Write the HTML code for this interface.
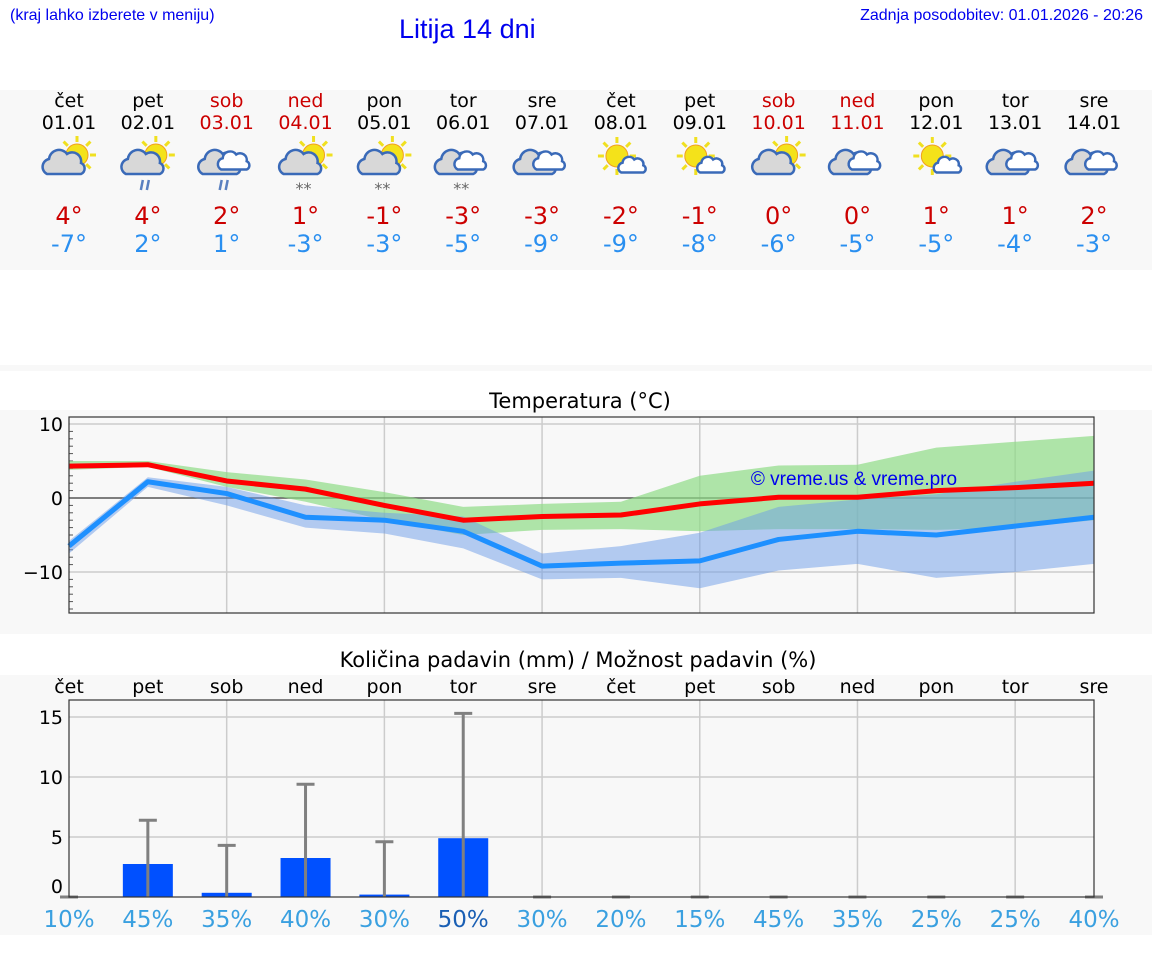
<!DOCTYPE html>
<html><head><meta charset="utf-8">
<style>
body{margin:0;width:1152px;height:975px;background:#fff;position:relative;font-family:"DejaVu Sans","Liberation Sans",sans-serif;overflow:hidden}
.abs{position:absolute}
.band{position:absolute;left:0;width:1152px;background:#f8f8f8}
.col{position:absolute;width:80px;text-align:center}
</style></head><body>
<div class="abs" style="left:10px;top:7px;font:16px 'Liberation Sans',sans-serif;color:#0000ee">(kraj lahko izberete v meniju)</div>
<div class="abs" style="left:399px;top:14px;font:27px 'Liberation Sans',sans-serif;color:#0000ee">Litija 14 dni</div>
<div class="abs" style="right:9px;top:7px;font:16px 'Liberation Sans',sans-serif;color:#0000ee">Zadnja posodobitev: 01.01.2026 - 20:26</div>
<div class="band" style="top:90px;height:180px"></div>
<div class="band" style="top:365px;height:6px"></div>
<div class="band" style="top:410px;height:224px"></div>
<div class="band" style="top:675px;height:260px"></div>
<div id="days"></div>
<svg id="chart" class="abs" style="left:0;top:0" width="1152" height="975"></svg>
<script>
const dayNames=["čet","pet","sob","ned","pon","tor","sre","čet","pet","sob","ned","pon","tor","sre"];
const dates=["01.01","02.01","03.01","04.01","05.01","06.01","07.01","08.01","09.01","10.01","11.01","12.01","13.01","14.01"];
const weekend=[0,0,1,1,0,0,0,0,0,1,1,0,0,0];
const icons=["sc","scr","cr","scs","scs","cs","c","ss","ss","sc","c","ss","c","c"];
const hiLabels=[4,4,2,1,-1,-3,-3,-2,-1,0,0,1,1,2];
const loLabels=[-7,2,1,-3,-3,-5,-9,-9,-8,-6,-5,-5,-4,-3];
const tMax=[4.3,4.5,2.3,1.2,-1,-3,-2.5,-2.3,-0.8,0.1,0.1,1,1.4,2.0];
const tMin=[-6.5,2.2,0.6,-2.6,-3,-4.5,-9.2,-8.8,-8.5,-5.6,-4.5,-5,-3.8,-2.6];
const gTop=[5,5,3.5,2.5,0.8,-1.2,-0.8,-0.5,3,4.4,4.5,6.8,7.6,8.4];
const gBot=[3.8,4.2,1.5,-0.5,-3,-5,-4.3,-4.2,-4.5,-4.2,-4.2,-4.3,-4,-3];
const bTop=[-5.8,2.8,1.5,-1,-2,-2.5,-7.5,-6.5,-4.7,-1.2,-0.2,0.5,2.2,3.7];
const bBot=[-7.5,1.5,-1,-4,-4.8,-6.8,-11,-10.8,-12.2,-9.8,-8.9,-10.8,-10,-8.9];
const precip=[0,2.75,0.35,3.25,0.2,4.9,0,0,0,0,0,0,0,0];
const precipMax=[0,6.4,4.3,9.4,4.6,15.3,0,0,0,0,0,0,0,0];
const chance=["10%","45%","35%","40%","30%","50%","30%","20%","15%","45%","35%","25%","25%","40%"];
const tTicks=[10,0,-10];
const pTicks=[15,10,5,0];

const X=i=>69+i*(1025/13);
const TY=v=>498-v*7.4;
const PY=v=>897-v*12;
const NS="http://www.w3.org/2000/svg";
const svg=document.getElementById('chart');
function mk(tag,attrs,parent){const e=document.createElementNS(NS,tag);for(const k in attrs)e.setAttribute(k,attrs[k]);(parent||svg).appendChild(e);return e;}

const days=document.getElementById('days');
for(let i=0;i<14;i++){
  const c=document.createElement('div');c.className='col';
  
  
  c.style.left=(X(i)-40)+'px';c.style.top='90px';
  const col=weekend[i]?'#cc0000':'#000';
  c.innerHTML=`<div style="font-size:19px;color:${col};line-height:22px">${dayNames[i]}</div><div style="font-size:19px;color:${col};line-height:22px">${dates[i]}</div><div style="height:68px"></div><div style="font-size:24px;color:#cc0000;line-height:28px">${hiLabels[i]}°</div><div style="font-size:24px;color:#2a8ff0;line-height:28px">${loLabels[i]}°</div>`;
  days.appendChild(c);
}
function sun(g,cx,cy,r){for(let k=0;k<8;k++){const a=k*Math.PI/4;mk('line',{x1:cx+Math.cos(a)*(r+2),y1:cy+Math.sin(a)*(r+2),x2:cx+Math.cos(a)*(r+8),y2:cy+Math.sin(a)*(r+8),stroke:'#f0e020','stroke-width':3},g);}mk('circle',{cx,cy,r,fill:'#f4e21a',stroke:'#f0a020','stroke-width':1},g);}
function cloud(g,cx,cy,s,fill){const p=`M${cx-18*s},${cy+10*s} a${8*s},${8*s} 0 0 1 ${2*s},${-15*s} a${10*s},${10*s} 0 0 1 ${18*s},${-5*s} a${9*s},${9*s} 0 0 1 ${14*s},${9*s} a${6*s},${6*s} 0 0 1 ${0},${11*s} z`;mk('path',{d:p,fill:fill,stroke:'#3a6ab8','stroke-width':2.5},g);}
for(let i=0;i<14;i++){
  const g=mk('g',{});
  
  
  const cx=X(i),cy=160,t=icons[i];
  if(t[0]==='s'&&t!=='ss'){sun(g,cx+8,cy-5,11);cloud(g,cx-4,cy+4,1,'#d8d8d8');}
  if(t==='ss'){sun(g,cx-4,cy-4,11);cloud(g,cx+12,cy+6,0.65,'#fff');}
  if(t[0]==='c'){cloud(g,cx-6,cy+4,1,'#d8d8d8');cloud(g,cx+8,cy+2,0.75,'#fff');}
  if(t.endsWith('r')){mk('line',{x1:cx-7,y1:cy+30,x2:cx-5,y2:cy+20,stroke:'#5a80c0','stroke-width':2.5},g);mk('line',{x1:cx-1,y1:cy+30,x2:cx+1,y2:cy+20,stroke:'#5a80c0','stroke-width':2.5},g);}
  if(t.endsWith('s')&&t!=='ss'){const tx=mk('text',{x:cx-10,y:cy+34,'font-size':16,fill:'#666','font-family':'DejaVu Sans'},g);tx.textContent='**';}
}
const tg=mk('g',{});


const tt=mk('text',{x:580,y:408,'text-anchor':'middle','font-size':21,'font-family':'DejaVu Sans'},tg);tt.textContent='Temperatura (°C)';
for(let i=2;i<13;i+=2)mk('line',{x1:X(i),x2:X(i),y1:417,y2:613,stroke:'#ccc','stroke-width':1.5},tg);
for(const v of tTicks){mk('line',{x1:69,x2:1094,y1:TY(v),y2:TY(v),stroke:v===0?'#555':'#ccc','stroke-width':1.5},tg);
  const l=mk('text',{x:63,y:TY(v)+7,'text-anchor':'end','font-size':19,'font-family':'DejaVu Sans'},tg);l.textContent=v<0?'−'+(-v):String(v);}
for(let v=-15;v<=10;v++){if(v%10)mk('line',{x1:69,x2:73,y1:TY(v),y2:TY(v),stroke:'#555'},tg);}
function band(a,b,fill,op){let d='';a.forEach((v,i)=>d+=(i?'L':'M')+X(i)+','+TY(v));for(let i=b.length-1;i>=0;i--)d+='L'+X(i)+','+TY(b[i]);mk('path',{d:d+'Z',fill,'fill-opacity':op},tg);}
band(gTop,gBot,'#8edc86',0.7);
band(bTop,bBot,'#6b9be8',0.5);
function line(a,c){mk('polyline',{points:a.map((v,i)=>X(i)+','+TY(v)).join(' '),fill:'none',stroke:c,'stroke-width':5,'stroke-linejoin':'round'},tg);}
line(tMin,'#1e90ff');line(tMax,'#ff0000');
const wm=mk('text',{x:854,y:485,'text-anchor':'middle','font-size':19,fill:'#0000ee','font-family':'Liberation Sans'},tg);wm.textContent='© vreme.us & vreme.pro';
mk('rect',{x:69,y:417,width:1025,height:196,fill:'none',stroke:'#333','stroke-width':1.2},tg);

const pg=mk('g',{});


const pt=mk('text',{x:578,y:667,'text-anchor':'middle','font-size':21,'font-family':'DejaVu Sans'},pg);pt.textContent='Količina padavin (mm) / Možnost padavin (%)';
for(let i=2;i<13;i+=2)mk('line',{x1:X(i),x2:X(i),y1:700,y2:897,stroke:'#ccc','stroke-width':1.5},pg);
for(const v of pTicks){if(v)mk('line',{x1:69,x2:1094,y1:PY(v),y2:PY(v),stroke:'#ccc','stroke-width':1.5},pg);
  const l=mk('text',{x:63,y:(v?PY(v):886)+7,'text-anchor':'end','font-size':19,'font-family':'DejaVu Sans'},pg);l.textContent=String(v);}
for(let i=0;i<14;i++){
  const d=mk('text',{x:X(i),y:693,'text-anchor':'middle','font-size':19,'font-family':'DejaVu Sans'},pg);d.textContent=dayNames[i];
  if(precip[i]>0){const r=mk('rect',{x:X(i)-25,y:PY(precip[i]),width:50,height:PY(0)-PY(precip[i]),fill:'#0050ff'},pg);
    
    }
  mk('line',{x1:X(i),x2:X(i),y1:PY(0),y2:PY(precipMax[i]),stroke:'#808080','stroke-width':3},pg);
  mk('line',{x1:X(i)-9,x2:X(i)+9,y1:PY(precipMax[i]),y2:PY(precipMax[i]),stroke:'#808080','stroke-width':3},pg);
  const c=mk('text',{x:X(i),y:927,'text-anchor':'middle','font-size':23,fill:chance[i]==='50%'?'#1a5fb4':'#3aa0e0','font-family':'DejaVu Sans'},pg);c.textContent=chance[i];
}
mk('rect',{x:69,y:700,width:1025,height:197,fill:'none',stroke:'#333','stroke-width':1.2},pg);
</script>
</body></html>
